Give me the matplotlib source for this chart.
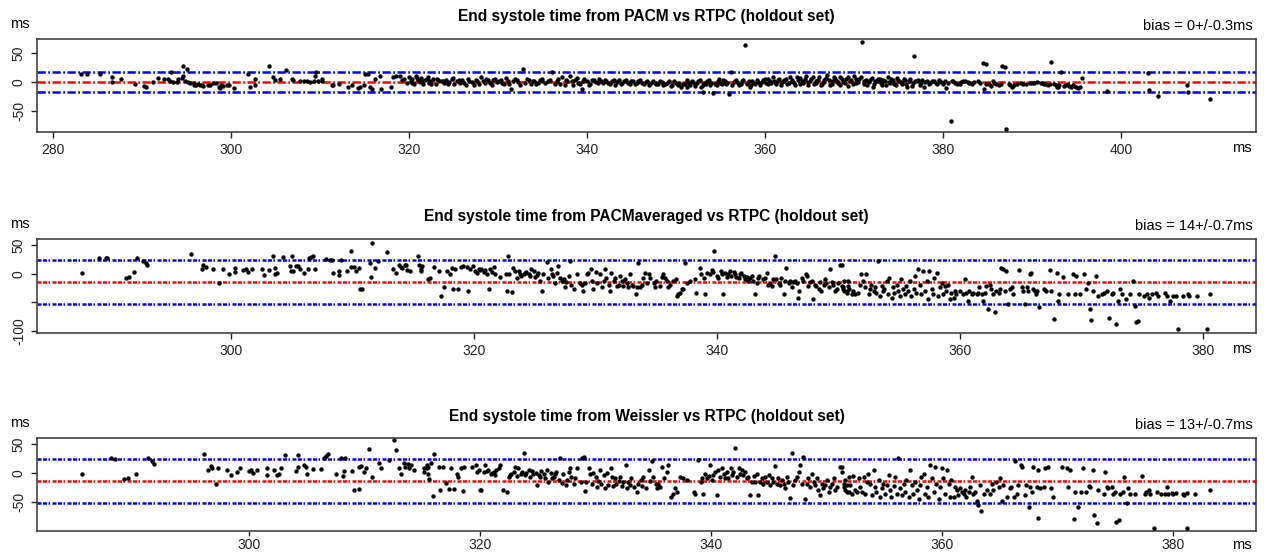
import numpy as np
import matplotlib
matplotlib.use('Agg')
import matplotlib.pyplot as plt

plt.rcParams['font.family'] = ['Liberation Sans', 'DejaVu Sans']

# ---- data (x = RTPC time in ms, y = difference in ms)
pacm_pts = [
    (283.2, 14), (283.8, 14), (285.3, 13), (286.6, 9), (286.6, 0), (287.6, 5), (289.2, -3),
    (290.2, -7), (290.4, -9), (291.2, 0), (291.8, 7), (292.5, 6), (292.9, 6), (293.1, 1),
    (293.3, 17), (293.5, 0), (293.9, 0), (294.1, 5), (294.5, 7), (294.6, 28), (294.6, 10),
    (294.8, 1), (295.1, 23), (295.2, 0), (295.4, -2), (295.8, -5), (295.9, -2), (296.1, -6),
    (296.3, -3), (296.5, -5), (296.7, -5), (296.9, -7), (297.4, -5), (297.6, -6), (298.0, -1),
    (298.3, -2), (298.6, -9), (298.8, -10), (298.9, -6), (299.1, -7), (299.5, -6), (299.8, -6),
    (300.3, -10), (301.9, 14), (302.1, -9), (302.7, -6), (302.7, 5), (304.3, 27), (304.7, 8),
    (304.9, 4), (305.5, 5), (306.2, 21), (306.9, 5), (307.0, 3), (307.8, 2), (308.2, 1),
    (308.5, 2), (308.9, 0), (309.3, 2), (309.4, 11), (309.6, 17), (309.8, 2), (310.2, 5),
    (310.2, 1), (311.3, -5), (311.5, -6), (312.1, -3), (313.2, -9), (313.6, -5), (314.3, -10),
    (314.5, -9), (314.9, -6), (315.1, 14), (315.4, 14), (315.6, -9), (315.8, -12), (316.2, 5),
    (316.7, 10), (316.9, -12), (318.0, -9), (318.2, 9), (318.6, 11), (319.0, 11),
    (319.2, 3), (319.5, 6), (319.8, -2), (320.0, 8), (320.2, 2), (320.4, 5), (320.6, -3),
    (320.8, 10), (321.0, 4), (321.2, 0), (321.4, 7), (321.6, -4), (321.8, 3), (322.0, 5),
    (322.2, -1), (322.4, 2), (322.7, 6), (323.0, -3), (323.3, 4), (323.6, 1), (323.9, -2),
    (324.2, 3), (324.5, 0), (324.8, 5), (325.1, -4), (325.4, 2), (325.7, -1), (326.0, 3),
    (326.4, -5), (326.8, 2), (327.1, 0), (327.5, 4), (327.9, -3), (328.3, 1), (328.7, 5),
    (329.1, -2), (329.5, 3), (329.9, 0), (330.3, 4), (330.7, -3), (331.1, 2), (331.5, -12),
    (331.9, 5), (332.3, 0), (332.8, 23), (333.1, -2), (333.5, 4), (333.9, 1), (334.3, -4),
    (334.7, 3), (335.0, 6), (335.3, -1), (335.6, 2), (336.1, 17), (336.4, -3), (336.8, 5),
    (337.2, 8), (337.5, -5), (337.8, 2), (338.1, 10), (338.4, -6), (338.7, 4), (339.0, -2),
    (339.4, -12), (339.7, 6), (340.0, 1), (340.3, -3), (340.6, 4), (341.0, 0), (341.4, 5),
    (341.8, -2), (342.2, 2), (342.6, -4), (343.0, 3), (343.4, 0), (343.8, -3), (344.2, 2),
    (344.6, -1), (345.0, 1), (345.4, -3), (345.8, 2), (346.2, -2), (346.6, 0), (347.0, -5),
    (347.4, 1), (347.8, -3), (348.2, 2), (348.6, -6), (349.0, -2), (349.4, -7), (349.8, 1),
    (350.2, -5), (350.6, -8), (351.0, -3), (351.3, 3), (351.6, -6), (351.9, 0), (352.2, -4),
    (352.5, 2), (352.8, -9), (353.0, -17), (353.2, -2), (353.5, 1), (353.8, -6), (354.2, -19),
    (354.4, -3), (354.7, 2), (355.0, -1), (355.3, 3), (355.6, -4), (356.0, -20), (356.2, 17),
    (356.5, 0), (356.8, 4), (357.1, -5), (357.4, 1), (357.8, 63), (358.0, -3), (358.3, -8),
    (358.6, 2), (358.9, -4), (359.2, 0), (359.5, -6), (359.8, 3), (360.1, -2), (360.4, 5),
    (360.7, -1), (361.0, 2), (361.3, -4), (361.6, 6), (361.9, 0), (362.2, 4), (362.5, -3),
    (362.8, 8), (363.1, 1), (363.4, -5), (363.7, 3), (364.0, 7), (364.3, -2), (364.6, 10),
    (364.9, 0), (365.2, 5), (365.5, -4), (365.8, 2), (366.1, 8), (366.4, -3), (366.7, 4),
    (367.0, 12), (367.3, -6), (367.6, 1), (367.9, 6), (368.2, -2), (368.5, 9), (368.8, 0),
    (369.1, 5), (369.4, -7), (369.7, 3), (370.0, 10), (370.3, -1), (370.6, 6), (370.9, 68),
    (371.2, 2), (371.5, -5), (371.8, 4), (372.1, -8), (372.4, 1), (372.7, 6), (373.0, -2),
    (373.3, 3), (373.6, -6), (373.9, 0), (374.2, 5), (374.5, -3), (374.8, 7), (375.1, 1),
    (375.4, -4), (375.7, 3), (376.0, -8), (376.3, 6), (376.6, -1), (376.8, 44), (377.1, 2),
    (377.4, -5), (377.7, 4), (378.0, 0), (378.4, -3), (378.8, 2), (379.2, -1), (379.6, 3),
    (380.0, -4), (380.4, -10), (380.9, -67), (381.2, 2), (381.6, -3), (382.0, 0), (382.5, 1),
    (383.0, -2), (383.5, 0), (384.0, 2), (384.5, 33), (384.6, -12), (384.9, 31), (385.2, -4),
    (385.6, 1), (386.0, -3), (386.3, -6), (386.7, 28), (387.0, 25), (387.1, -80), (387.4, -4),
    (387.8, -8), (388.3, -3), (388.8, -2), (389.4, -3), (390.0, -1), (390.6, 0), (391.0, -2),
    (391.4, -4), (391.8, -6), (392.2, 35), (392.5, -3), (392.8, -8), (393.1, -5), (393.3, 17),
    (393.6, -7), (394.0, -4), (394.4, -9), (394.8, -7), (395.2, -10), (395.6, 7), (398.5, -16),
    (403.1, 16), (403.2, -13), (404.2, -24), (407.4, -5), (407.6, -18), (410.0, -29),
    # second pass over the dense band 320-396
    (320.3, -1), (320.9, 7), (321.5, 1), (322.1, 9), (322.5, -3), (323.1, 6), (323.8, 2),
    (324.4, -4), (325.0, 7), (325.6, 3), (326.2, -2), (326.6, 6), (327.3, -6), (327.7, 2),
    (328.1, 8), (328.5, -1), (328.9, 3), (329.3, -5), (329.7, 6), (330.1, 1), (330.5, -2),
    (330.9, 7), (331.3, -4), (331.7, 1), (332.1, 3), (332.5, -6), (333.3, 6), (333.7, -3),
    (334.1, 2), (334.5, -2), (334.9, 1), (335.8, 4), (336.6, 1), (337.0, -4), (337.6, 3),
    (338.3, 1), (338.9, 7), (339.2, -4), (339.6, 2), (340.2, -6), (340.8, 3), (341.2, -2),
    (341.6, 1), (342.0, 4), (342.4, -1), (342.8, 2), (343.2, -6), (343.6, 3), (344.0, -1),
    (344.4, 4), (344.8, -3), (345.2, 2), (345.6, -1), (346.0, 3), (346.4, -4), (346.8, 2),
    (347.2, -2), (347.6, -1), (348.0, -4), (348.4, 0), (348.8, -3), (349.2, 1), (349.6, -5),
    (350.0, -2), (350.4, -1), (350.8, -4), (351.2, -9), (351.5, -1), (351.8, 2), (352.1, -7),
    (352.4, -2), (352.7, 4), (353.1, -5), (353.4, -3), (353.7, 3), (354.0, -1), (354.6, -6),
    (354.9, 5), (355.2, -3), (355.5, 1), (355.8, -2), (356.3, -6), (356.7, 2), (357.0, -1),
    (357.3, -3), (357.6, 3), (358.2, 1), (358.5, -5), (358.8, -1), (359.1, 4), (359.4, -2),
    (359.7, 0), (360.0, 6), (360.3, -4), (360.6, 2), (360.9, 8), (361.2, -1), (361.5, 3),
    (361.8, -6), (362.1, 1), (362.4, 6), (362.7, -2), (363.0, 4), (363.3, -1), (363.6, 9),
    (363.9, -3), (364.2, 2), (364.5, 5), (364.8, -6), (365.1, 1), (365.4, 8), (365.7, -1),
    (366.0, 4), (366.3, -6), (366.6, 0), (366.9, 7), (367.2, 3), (367.5, -3), (367.8, 9),
    (368.1, 2), (368.4, -5), (368.7, 5), (369.0, -1), (369.3, 8), (369.6, 1), (369.9, -4),
    (370.2, 6), (370.5, 0), (370.8, 9), (371.1, -3), (371.4, 4), (371.7, 0), (372.0, 7),
    (372.3, -4), (372.6, 2), (372.9, 5), (373.2, -6), (373.5, 1), (373.8, 8), (374.1, -2),
    (374.4, 3), (374.7, -6), (375.0, 4), (375.3, 0), (375.6, 6), (375.9, -3), (376.2, 2),
    (376.5, -7), (376.9, 1), (377.2, 4), (377.5, -2), (377.9, -8), (378.2, 2), (378.6, -1),
    (379.0, 1), (379.4, -3), (379.8, 0), (380.2, 2), (380.6, -2), (381.0, 1), (381.4, -1),
    (381.9, -4), (382.3, 1), (382.8, 0), (383.3, -3), (384.2, -1), (384.8, -3), (385.4, -7),
    (385.8, -2), (386.5, -4), (387.6, -6), (388.0, -5), (389.0, -4), (389.8, -2), (390.3, -2),
    (391.2, -1), (391.6, -3), (392.0, -3), (392.7, -6), (393.0, -8), (393.8, -6), (394.2, -7),
    (394.6, -5), (395.0, -9), (395.4, -8),
]

pacmavg_pts = [
    (287.7, 2), (289.1, 28), (289.7, 27), (289.8, 28), (291.3, -8), (291.6, -5), (292.0, 3),
    (292.2, 28), (292.7, 23), (293.0, 19), (293.1, 16), (296.7, 34), (297.6, 9), (297.7, 15),
    (297.9, 12), (298.5, 9), (299.0, -17), (299.3, 9), (299.8, 0), (300.3, 10), (300.3, 3),
    (301.0, 6), (301.2, 9), (301.4, 3), (301.7, 8), (302.5, 9), (302.7, -2), (303.1, 6),
    (303.4, 31), (303.6, 10), (303.6, 0), (303.8, 1), (304.3, 30), (304.8, 13), (304.9, 5),
    (305.0, 31), (305.1, 5), (305.3, 14), (305.5, 13), (305.7, 9), (306.0, 1), (306.3, 9),
    (306.4, 27), (306.6, 29), (306.7, 32), (306.9, 9), (307.8, 26), (308.1, 25), (308.3, 25),
    (308.4, 1), (308.9, 5), (308.9, -3), (309.0, 25), (309.5, 5), (309.9, 12), (309.9, 40),
    (310.1, 12), (310.3, 5), (310.5, 10), (310.6, -27), (310.8, -26), (311.4, 19), (311.5, -6),
    (311.6, 54), (311.8, 10), (312.1, 22), (312.8, 38), (313.3, 8), (313.6, 1), (313.8, 16),
    (314.0, 12), (314.1, 10), (314.3, 16), (314.4, 15), (314.5, 6), (314.7, 5), (315.4, 31),
    (315.5, 16), (315.6, 8), (315.6, 5), (316.2, -10),
    (315.7, 13), (316.4, -7), (316.7, 12), (317.1, 5), (317.3, -39), (317.5, -24), (317.8, 5),
    (318.0, -1), (318.2, 10), (318.3, -26), (318.4, 8), (318.7, -26), (318.9, 12), (319.1, 13),
    (319.4, 12), (319.5, -30), (319.7, 8), (319.9, 13),
    (320.1, 5), (320.2, 2), (320.4, 8), (320.5, 6), (320.6, 9), (320.8, 3), (320.9, 6),
    (321.1, -1), (321.2, -27), (321.3, 8), (321.5, 3), (321.6, 12), (321.7, -1), (322.1, -6),
    (322.6, -1), (322.7, -30), (322.8, 32), (322.9, -1), (323.1, -32), (323.2, 10), (323.4, 5),
    (323.5, -7), (323.7, 5),
    (323.8, 0), (323.9, -4), (324.1, -1), (324.2, 2), (324.3, 3), (324.5, -1), (324.6, -4),
    (324.7, 8), (324.9, 5), (325.0, -6), (325.2, -2), (325.3, 2), (325.4, -12), (325.6, -30),
    (325.7, -1), (326.0, 21), (326.1, -7), (326.3, 8), (326.4, -1), (326.5, -4), (326.7, -17),
    (326.8, 2), (326.9, 13), (327.1, -7), (327.2, -13), (327.4, -10), (327.5, -24), (327.6, -14),
    (327.8, -4), (327.9, 23),
    (328.0, -19), (328.2, -26), (328.5, -1), (328.7, -16), (328.9, -19), (329.0, -31),
    (329.1, -16), (329.3, -1), (329.4, 2), (329.6, 8), (329.7, -13), (329.8, -27), (330.0, 3),
    (330.1, -16), (330.4, -1), (330.5, -24), (330.7, -13), (330.8, 8), (330.9, -7), (331.1, -19),
    (331.2, -30), (331.3, 2), (331.5, -13), (331.6, -7), (331.8, -22), (331.9, -19), (332.0, -4),
    (332.2, -13), (332.3, -22), (332.4, -10), (332.6, -16), (332.7, -24), (332.8, -1),
    (333.0, -20), (333.1, -22), (333.3, -35), (333.4, -24),
    (333.5, 19), (333.7, -24), (333.8, -19), (333.9, -7), (334.1, 2), (334.2, -16), (334.4, -1),
    (334.5, -7), (334.8, -16), (334.9, -24), (335.0, -12), (335.3, -22), (335.5, -6), (335.6, 0),
    (335.7, -7), (335.9, -13), (336.0, -24), (336.1, -19), (336.4, -12), (336.6, -10),
    (336.7, -39), (336.8, -36), (337.0, -33), (337.1, -27), (337.2, -27), (337.4, 19),
    (337.5, -17), (337.8, -13), (338.2, -10), (338.3, -33),
    (338.6, 10), (338.7, -1), (338.9, -7), (339.0, -36), (339.2, 2), (339.4, -1), (339.6, 6),
    (339.7, 3), (339.8, 40), (340.0, -4), (340.1, -7), (340.3, 5), (340.4, 0), (340.5, -36),
    (340.7, 2), (340.8, -6), (340.9, -1), (341.1, 5), (341.2, -4), (341.4, 3), (341.5, 0),
    (341.6, -6), (341.8, -7), (341.9, -1), (342.0, 2), (342.2, -4), (342.3, -10), (342.5, -6),
    (342.6, -13), (342.7, -7), (342.9, -4), (343.0, -13),
    (343.1, -36), (343.3, -16), (343.4, -7), (343.5, -4), (343.8, -10), (344.0, -7), (344.1, 2),
    (344.2, -19), (344.4, -16), (344.5, -22), (344.6, -10), (344.8, 31), (344.9, -10),
    (345.1, -16), (345.2, -19), (345.3, -7), (345.5, -36), (345.6, -12), (345.7, 10),
    (345.9, -16), (346.0, -13), (346.2, -24), (346.3, -14), (346.4, -12), (346.6, -17),
    (346.7, -42), (346.8, -30), (347.0, -7), (347.1, -12), (347.3, -1), (347.4, -4),
    (347.5, -22), (347.7, -14), (347.8, -12), (347.9, -45), (348.1, -19), (348.2, -22),
    (348.4, -27), (348.5, -14), (348.6, -30), (348.8, -19), (348.9, -10), (349.0, -16),
    (349.2, -24), (349.3, 8), (349.5, -14), (349.6, -19), (349.7, -30), (349.9, -27),
    (350.0, -17), (350.1, 15), (350.3, -22), (350.4, -27), (350.5, -13), (350.7, -30),
    (350.8, -22),
    (350.3, 16), (350.4, -24), (350.5, -30), (350.7, -33), (350.8, -13), (350.9, -27),
    (351.1, -36), (351.2, -30), (351.4, -35), (351.6, -33), (351.8, -19), (351.9, -1),
    (352.0, -13), (352.2, -24), (352.3, 0), (352.5, -36), (352.6, -27), (352.7, -19),
    (352.9, -30), (353.0, -24), (353.1, -33), (353.3, 22), (353.4, -39), (353.6, -22),
    (353.7, -30), (353.8, -27), (354.0, -13), (354.1, -36), (354.2, -7), (354.4, -42),
    (354.5, -24), (354.6, -33), (354.8, -19), (354.9, -30), (355.1, -39), (355.2, -10),
    (355.3, -27), (355.5, -36), (355.6, -22), (355.7, -30), (355.9, -13), (356.0, -39),
    (356.2, -27), (356.3, -4), (356.4, -33), (356.6, 9), (356.7, -19), (356.8, -36), (357.0, 5),
    (357.1, -30), (357.3, -13), (357.4, -45), (357.5, 5), (357.7, -27), (357.8, -36),
    (357.9, -7), (358.1, 2), (358.2, -39), (358.4, -24), (358.5, -17), (358.6, -36),
    (358.8, -22), (358.9, -30), (359.0, -19), (359.2, -45), (359.3, -33), (359.5, -42),
    (359.6, -30), (359.7, -36),
    (360.0, -30), (360.3, -36), (360.4, -10), (360.5, -33), (360.7, -48), (360.8, -30),
    (361.0, -36), (361.1, -33), (361.4, -36), (361.5, -33), (361.6, -24), (361.8, -36),
    (361.9, -48), (362.1, -33), (362.2, -22), (362.3, -62), (362.5, -19), (362.6, -27),
    (362.7, -36), (362.9, -68), (363.0, -30), (363.2, -33), (363.3, -27), (363.4, 10),
    (363.6, 8), (363.7, -30), (363.8, 5), (364.0, -53), (364.1, -27), (364.3, -24), (364.4, -36),
    (364.9, 6), (365.1, -24), (365.2, -30), (365.4, -53), (365.5, -24), (365.6, -30),
    (365.8, -1), (365.9, 2), (366.0, -27), (366.2, -30), (366.3, -36), (366.4, -30), (366.5, -59),
    (366.9, -27), (367.1, -30), (367.4, 6), (367.5, -30), (367.8, -80), (368.0, 2), (368.1, -48),
    (368.2, -36), (368.5, -6), (368.9, -36), (369.3, -1), (369.5, -36), (369.6, -4),
    (369.9, -36), (370.2, -1), (370.4, -27), (370.6, -16), (370.7, -62), (370.8, -81),
    (371.0, -30), (371.2, -4), (371.4, -39), (371.7, -36), (371.9, -33), (372.1, -30),
    (372.3, -77), (372.5, -36), (372.6, -33), (372.9, -88), (373.0, -47), (373.2, -27),
    (373.4, -36), (373.7, -45), (374.0, -36), (374.3, -12), (374.4, -56), (374.5, -85),
    (374.7, -83), (374.8, -36),
    (375.2, -39), (375.4, -36), (375.6, -42), (375.8, -36), (376.2, -33), (376.3, -39),
    (376.9, -33), (377.1, -39), (377.3, -48), (377.6, -39), (377.8, -39), (378.0, -97),
    (378.4, -39), (378.8, -36), (378.9, -39), (379.5, -39), (380.4, -97), (380.6, -35),
]

weissler_pts = [
    (285.5, -2), (288.0, 25), (288.4, 24), (289.1, -10), (289.5, -8), (290.2, -1), (291.2, 25),
    (291.6, 20), (291.7, 15), (296.1, 33), (296.4, 6), (296.7, 12), (296.8, 9), (297.1, -19),
    (297.3, 8), (298.1, 6), (298.4, -3), (298.9, 2), (299.2, 8), (300.0, 4), (300.1, 6),
    (300.3, 1), (300.7, 6), (301.5, 8), (301.5, -4), (302.1, 5), (302.4, -3), (302.6, -1),
    (302.7, 8), (303.1, 31), (304.0, 4), (304.2, 11), (304.2, 31), (304.7, 13), (304.9, 10),
    (305.0, -1), (305.5, 7), (306.2, 7), (306.5, 26), (306.6, 29), (306.8, 33),
    (307.5, -2), (307.9, 25), (308.1, -5), (308.2, 4), (308.3, 25), (308.9, 4), (309.1, -29),
    (309.5, -28), (309.5, 11), (309.7, 12), (309.9, 2), (310.1, 9), (310.4, 41), (310.6, -7),
    (311.2, 18), (311.4, 9), (312.1, 22), (312.5, 56), (312.7, 40), (313.0, 8), (313.1, -1),
    (313.4, 18), (313.5, 11), (313.7, 16), (313.8, 9), (314.0, 14), (314.3, 5), (315.1, 2),
    (315.4, 8), (315.5, 11), (315.6, -10),
    (315.1, 8), (315.4, 14), (315.5, -1), (315.7, 17), (315.9, -40), (316.0, 33), (316.4, 11),
    (316.5, -29), (316.8, 10), (317.0, -17), (317.3, -28), (317.5, 8), (317.7, -28),
    (318.0, -1), (318.1, -6), (318.3, 8), (318.5, -30), (318.6, 11), (319.3, 10), (319.6, 14),
    (319.7, 2), (319.9, 5),
    (320.0, -29), (320.1, -29), (320.3, 2), (320.4, 14), (320.6, 4), (320.7, 6), (320.9, -1),
    (321.0, 1), (321.2, 2), (321.3, -3), (321.4, 5), (321.6, 8), (321.7, 14), (322.0, -29),
    (322.3, -32), (322.5, -6), (322.6, -3), (322.7, -2), (322.9, 2), (323.0, 11), (323.2, -5),
    (323.3, 8), (323.5, -1), (323.6, 2), (323.8, 35), (323.9, -3), (324.0, 1), (324.2, 6),
    (324.3, -6), (324.5, 4), (324.6, -2), (324.8, 1), (324.9, -21),
    (325.1, -3), (325.2, -6), (325.3, 4), (325.5, -2), (325.6, -9), (325.8, 5), (325.9, -15),
    (326.1, 1), (326.2, -9), (326.4, -6), (326.5, -2), (326.6, 2), (326.8, -12), (326.9, 25),
    (327.1, -17), (327.2, -1), (327.4, -21), (327.5, -12), (327.7, 2), (327.8, 8), (327.9, -6),
    (328.1, -19), (328.2, -9), (328.4, 8), (328.7, -15), (328.8, 25), (329.0, 28), (329.1, -30),
    (329.2, -15), (329.4, 8), (329.5, -2), (329.7, -19),
    (329.8, 1), (330.0, -6), (330.1, -24), (330.2, -13), (330.4, 6), (330.5, -19), (330.7, -3),
    (330.8, -26), (331.0, 1), (331.1, -21), (331.3, 8), (331.4, -6), (331.5, -22), (331.7, -9),
    (331.8, -18), (332.0, -13), (332.1, -6), (332.3, -22), (332.4, -15), (332.6, 14),
    (332.7, -25), (332.8, -15), (333.0, -21), (333.1, -9), (333.3, -24), (333.6, -32),
    (333.7, -19), (333.9, -12), (334.0, -22), (334.1, -7), (334.4, -25), (334.6, 6),
    (334.7, -13), (334.9, 20), (335.0, -6), (335.2, -19), (335.3, -26), (335.4, -19),
    (335.6, -24),
    (335.7, 11), (335.9, -9), (336.2, 2), (336.3, 14), (336.5, -41), (336.7, -36), (336.9, -26),
    (337.0, -32), (337.3, -6), (337.6, -9), (337.9, -12), (338.5, -32), (338.6, -35), (338.9, 22),
    (339.1, -15), (339.2, -9), (339.3, -36), (339.5, -2), (339.6, -9), (339.8, -5), (339.9, 14),
    (340.1, -12), (340.2, -3),
    (340.3, 2), (340.5, -38), (340.6, 5), (340.8, -6), (340.9, 8), (341.1, -1), (341.2, -9),
    (341.4, 2), (341.5, -9), (341.7, 8), (341.8, -3), (341.9, 2), (342.1, 43), (342.2, -6),
    (342.4, 8), (342.5, -1), (342.7, 6), (342.8, -3), (342.9, 2), (343.1, -9), (343.2, -6),
    (343.4, -38), (343.5, -15), (343.7, -5), (343.8, -15), (344.0, -2), (344.1, -38),
    (344.2, -15), (344.4, -9), (344.5, -19), (344.7, -6), (344.8, -15), (345.0, -3), (345.1, -21),
    (345.3, -9), (345.4, -15), (345.5, 12), (345.7, -19), (345.8, -9), (346.0, -21),
    (346.1, -12), (346.3, -18), (346.4, -26), (346.6, -6), (346.7, -15), (346.8, -42),
    (347.0, 34), (347.1, -21), (347.3, -12), (347.4, -6), (347.6, 2), (347.7, 14), (347.9, -18),
    (348.0, 28), (348.1, -44), (348.3, -19), (348.4, -9), (348.6, -24), (348.7, -1),
    (348.9, -15), (349.0, -21), (349.2, -9), (349.3, -29), (349.4, -38), (349.6, -18),
    (349.7, -26), (349.9, -21), (350.0, -12), (350.2, -32), (350.3, -24), (350.5, -19),
    (350.6, -9), (350.7, -29), (350.9, -24), (351.2, 11), (351.3, 2), (351.5, -18), (351.6, -29),
    (351.8, -21), (351.9, -32),
    (351.3, 11), (351.5, -24), (351.6, -12), (351.8, -32), (351.9, -6), (352.0, -21),
    (352.2, -35), (352.3, -5), (352.5, -29), (352.6, -32), (352.8, -9), (352.9, -24),
    (353.1, -32), (353.2, -6), (353.3, -35), (353.5, -15), (353.6, -1), (353.8, -18),
    (353.9, -38), (354.1, 5), (354.2, -24), (354.3, -32), (354.5, -12), (354.6, -41),
    (354.8, -26), (354.9, -18), (355.1, -35), (355.2, -21), (355.4, -3), (355.5, -29),
    (355.6, -41), (355.8, -22), (355.9, -6), (356.1, -35), (356.2, 26), (356.4, -26),
    (356.5, -38), (356.7, -18), (356.8, -32), (356.9, -11), (357.1, -41), (357.2, 5),
    (357.4, -21), (357.5, -35), (357.7, -15), (357.8, -29), (358.0, -44), (358.1, -21),
    (358.2, -6), (358.4, -2), (358.5, -35), (358.7, -24), (358.8, -41), (359.0, 14),
    (359.1, -9), (359.3, -32), (359.4, 10), (359.5, -18), (359.7, -44), (359.8, -24), (360.0, 8),
    (360.1, -9), (360.3, -35), (360.4, 6), (360.6, -18), (360.7, -41),
    (360.8, -12), (361.0, -41), (361.1, -24), (361.3, -29), (361.4, -38), (361.6, -26),
    (361.7, -32), (361.9, -35), (362.0, -29), (362.1, -41), (362.3, -32), (362.4, -24),
    (362.6, -6), (362.7, -35), (362.9, -32), (363.0, -47), (363.1, -55), (363.3, -21),
    (363.4, -64), (363.6, -35), (363.9, -29), (364.2, -35), (364.3, -18), (364.4, -29),
    (364.7, -15), (364.9, -24), (365.0, -9), (365.2, -47), (365.3, -21), (365.6, -41),
    (365.9, -26), (366.0, -24), (366.2, -41), (366.3, 20), (366.5, -35), (366.6, -21), (366.8, 14),
    (366.9, 11), (367.2, -38), (367.3, -21), (367.5, -58), (367.6, -24), (367.8, -32), (367.9, 11),
    (368.2, -24), (368.3, -76), (368.3, 5), (368.5, -26),
    (368.8, -24), (368.9, 8), (369.2, 11), (369.4, -26), (369.6, -41), (370.4, 11), (370.8, 8),
    (370.9, -24), (371.1, 5), (371.4, -78), (371.5, -32), (371.8, -58), (372.0, -32), (372.2, 8),
    (372.5, -32), (372.7, -22), (372.8, -24), (373.1, 5), (373.2, -72), (373.4, -86),
    (373.5, -29), (374.0, -35), (374.1, 2), (374.3, -24), (374.4, -26), (374.7, -24),
    (374.8, -35), (375.0, -32), (375.1, -84), (375.3, -81), (375.4, -35), (375.7, -32),
    (375.8, -6), (376.0, -51), (376.1, -26), (376.3, -35), (376.7, -35), (377.3, -5),
    (377.6, -35), (377.7, -32), (377.9, -29), (378.0, -35), (378.4, -94), (378.6, -32),
    (379.0, -35), (379.3, -35), (379.5, -24), (379.6, -35), (379.9, -34), (380.0, -35),
    (380.3, -34), (380.9, -35), (381.0, -38), (381.2, -34), (381.2, -94), (381.9, -35),
    (383.2, -29),
]

titles = [
    "End systole time from PACM vs RTPC (holdout set)",
    "End systole time from PACMaveraged vs RTPC (holdout set)",
    "End systole time from Weissler vs RTPC (holdout set)",
]
bias_labels = ["bias = 0+/-0.3ms", "bias = 14+/-0.7ms", "bias = 13+/-0.7ms"]
mean_lines = [0, -14.5, -13]
upper_lines = [17, 24.5, 24.5]
lower_lines = [-17, -53.5, -50.5]
xlims = [(278.2, 415.2), (284.0, 384.4), (281.6, 387.2)]
ylims = [(-86, 74), (-104, 61), (-99, 60)]
xticks = [[280, 300, 320, 340, 360, 380, 400], [300, 320, 340, 360, 380], [300, 320, 340, 360, 380]]
yticks = [[-50, 0, 50], [-100, -50, 0, 50], [-50, 0, 50]]
ytick_labels = [["-50", "0", "50"], ["-100", "", "0", "50"], ["-50", "0", "50"]]
all_pts = [pacm_pts, pacmavg_pts, weissler_pts]

# ---- layout (pixel boxes of the three panels)
W, H = 1267, 556
boxes = [(37, 39, 1256, 132), (37, 239, 1256, 333), (37, 438, 1256, 531)]
# the last panel sits at the bottom edge, so its x labels are drawn a bit tighter
xtick_pads = [4, 4, 1.5]
xtick_lens = [4, 4, 3.5]
xms_offsets = [16, 16, 14]

fig = plt.figure(figsize=(W / 100, H / 100), dpi=100)

# the first panel uses a plain dot-dash, the lower two a busier pattern
line_styles = [(0, (3.3, 1.0, 0.7, 1.0)),
               (0, (1.6, 0.6, 1.6, 0.6, 0.6, 1.0)),
               (0, (1.6, 0.6, 1.6, 0.6, 0.6, 1.0))]

for i in range(3):
    l, t, r, b = boxes[i]
    ax = fig.add_axes([l / W, 1 - b / H, (r - l) / W, (b - t) / H])
    pts = np.array(all_pts[i])
    ax.scatter(pts[:, 0], pts[:, 1], s=10, c='black', linewidths=0, zorder=3)

    ax.axhline(mean_lines[i], color='#ff0000', lw=1.8, linestyle=line_styles[i], zorder=2)
    ax.axhline(upper_lines[i], color='#0000ff', lw=1.8, linestyle=line_styles[i], zorder=2)
    ax.axhline(lower_lines[i], color='#0000ff', lw=1.8, linestyle=line_styles[i], zorder=2)

    ax.set_xlim(*xlims[i])
    ax.set_ylim(*ylims[i])
    ax.set_xticks(xticks[i])
    ax.set_yticks(yticks[i])
    ax.set_yticklabels(ytick_labels[i], rotation=90, va='center')
    ax.tick_params(direction='out', width=1, colors='#222222', labelsize=10)
    ax.tick_params(axis='y', length=4, pad=4)
    ax.tick_params(axis='x', length=xtick_lens[i], pad=xtick_pads[i])
    for sp in ax.spines.values():
        sp.set_linewidth(1.1)
        sp.set_color('#333333')

    fig.text(646.5 / W, 1 - (t - 22) / H, titles[i], ha='center', va='center',
             fontsize=11.2, fontweight='bold')
    fig.text(1253 / W, 1 - (t - 13) / H, bias_labels[i], ha='right', va='center', fontsize=10.5)
    fig.text(20 / W, 1 - (t - 15) / H, "ms", ha='center', va='center', fontsize=10.5)
    fig.text(1242 / W, 1 - (b + xms_offsets[i]) / H, "ms", ha='center', va='center', fontsize=10.5)

fig.savefig("out.png", dpi=100)
